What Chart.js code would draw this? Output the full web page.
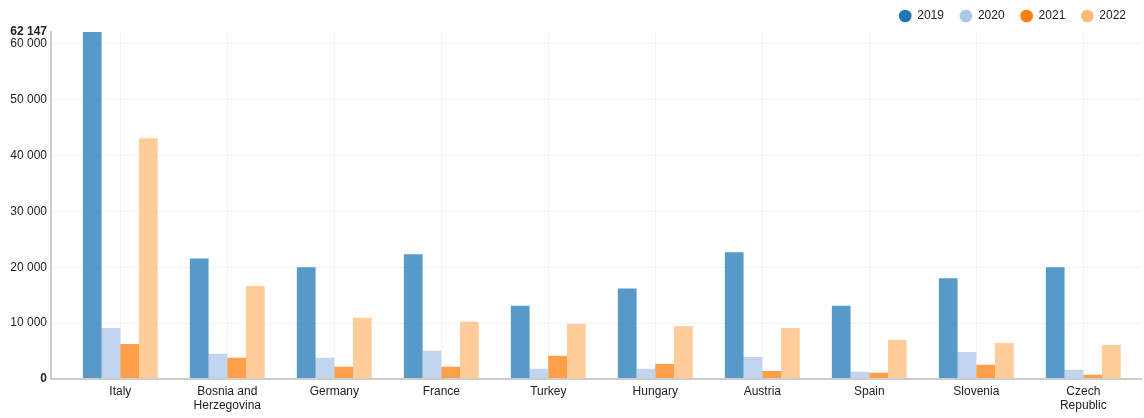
<!DOCTYPE html>
<html>
<head>
<meta charset="utf-8">
<script src="https://cdn.jsdelivr.net/npm/chart.js@4/dist/chart.umd.min.js"></script>
<style>
html,body{margin:0;padding:0;background:#fff;}
#wrap{width:1144px;height:418px;position:relative;}
</style>
</head>
<body>
<div id="wrap"><canvas id="c" width="1144" height="418"></canvas></div>
<script>
const categories = ['Italy', ['Bosnia and', 'Herzegovina'], 'Germany', 'France', 'Turkey', 'Hungary', 'Austria', 'Spain', 'Slovenia', ['Czech', 'Republic']];
const seriesNames = ['2019', '2020', '2021', '2022'];
const v2019 = [62147, 21600, 20000, 22350, 13100, 16200, 22700, 13100, 18050, 20000];
const v2020 = [9150, 4500, 3800, 5050, 1850, 1850, 3950, 1300, 4850, 1650];
const v2021 = [6250, 3800, 2200, 2200, 4150, 2700, 1450, 1100, 2550, 750];
const v2022 = [43100, 16650, 10950, 10250, 9850, 9500, 9150, 7000, 6450, 6100];
const yTicks = [0, 10000, 20000, 30000, 40000, 50000, 60000, 62147];
const yMax = 62147;

const baseColors = ['#1f77b4', '#aec7e8', '#ff7f0e', '#ffbb78'];
const barColors = ['rgba(31,119,180,0.75)', 'rgba(174,199,232,0.75)', 'rgba(255,127,14,0.75)', 'rgba(255,187,120,0.75)'];
const allValues = [v2019, v2020, v2021, v2022];

const fmt = v => String(v).replace(/\B(?=(\d{3})+(?!\d))/g, ' ');

const shiftX = {
  id: 'shiftX',
  afterLayout(chart) {
    const x = chart.scales.x, a = chart.chartArea;
    x.left = a.left + 15.8;
    x.right = a.right - 5.2;
    x.width = x.right - x.left;
    x.configure();
  }
};

Chart.defaults.font.family = '"Liberation Sans", Arial, sans-serif';
Chart.defaults.font.size = 12;
Chart.defaults.color = '#222';

new Chart(document.getElementById('c'), {
  type: 'bar',
  data: {
    labels: categories,
    datasets: seriesNames.map((n, i) => ({
      label: n,
      data: allValues[i],
      backgroundColor: barColors[i],
      borderWidth: 0,
      categoryPercentage: 0.7,
      barPercentage: 1.0
    }))
  },
  plugins: [shiftX],
  options: {
    responsive: false,
    animation: false,
    layout: {padding: {top: -6, left: 0, right: 2, bottom: 0}},
    plugins: {
      legend: {
        position: 'top',
        align: 'end',
        labels: {
          usePointStyle: true,
          pointStyle: 'circle',
          boxWidth: 12,
          boxHeight: 9,
          padding: 16,
          color: '#222',
          font: {size: 12},
          generateLabels(chart) {
            return chart.data.datasets.map((d, i) => ({
              text: d.label,
              fillStyle: baseColors[i],
              strokeStyle: baseColors[i],
              lineWidth: 0,
              pointStyle: 'circle',
              datasetIndex: i,
              hidden: false,
              fontColor: '#222'
            }));
          }
        }
      },
      tooltip: {enabled: false}
    },
    scales: {
      x: {
        offset: true,
        grid: {offset: false, color: '#f3f3f3', lineWidth: 1, drawTicks: false},
        border: {display: false},
        ticks: {autoSkip: false, maxRotation: 0, padding: 5, color: '#222', font: {size: 12}},
        afterFit(s) { s.height = 39; }
      },
      y: {
        min: 0,
        max: yMax,
        afterBuildTicks(s) { s.ticks = yTicks.map(v => ({value: v})); },
        afterFit(s) { s.width = 51; },
        grid: {
          drawTicks: false,
          lineWidth: c => (c.tick && c.tick.value === 0) ? 2 : 1,
          color: c => {
            if (!c.tick) return '#f3f3f3';
            if (c.tick.value === 0) return '#cccccc';
            if (c.tick.value === yMax) return 'rgba(0,0,0,0)';
            return '#f3f3f3';
          }
        },
        border: {display: true, color: '#cccccc', width: 2},
        ticks: {
          autoSkip: false,
          padding: 4,
          color: '#222',
          callback: v => fmt(v),
          font: c => ({size: 12, weight: (c.tick && (c.tick.value === 0 || c.tick.value === yMax)) ? 'bold' : 'normal'})
        }
      }
    }
  }
});
</script>
</body>
</html>
